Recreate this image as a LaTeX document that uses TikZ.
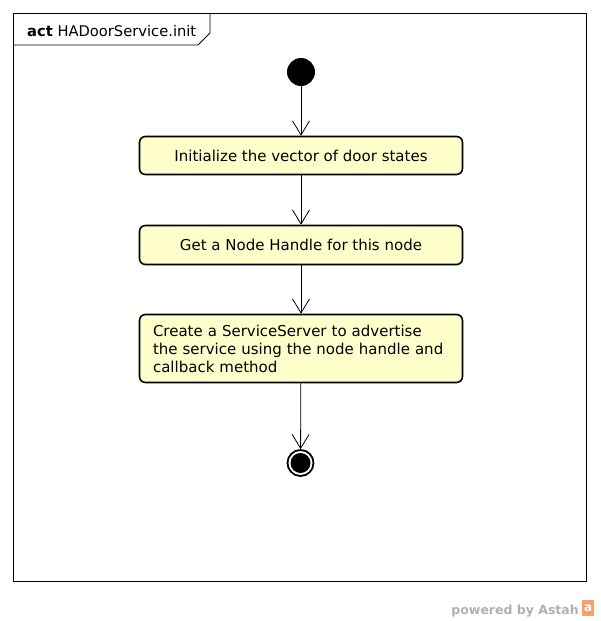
\documentclass[tikz,border=0pt]{standalone}
\usepackage{fontspec}
\setmainfont{DejaVu Sans}
\usepackage{tikz}
\usepackage{xcolor}
\usetikzlibrary{
    arrows.meta,
    positioning
}
\definecolor{actfill}{RGB}{255,255,204}
\definecolor{creditgray}{RGB}{176,176,176}
\definecolor{astahorange}{RGB}{245,160,110}

\begin{document}
\begin{tikzpicture}[x=1pt, y=-1pt,
    action/.style={draw, line width=1.6pt, rounded corners=6pt, fill=actfill,
        inner sep=0pt, minimum width=323pt, font=\fontsize{15}{18}\selectfont},
    flow/.style={-{Straight Barb[length=14pt, width=17pt, line width=0.8pt]}, line width=0.8pt}]
    \useasboundingbox (0, 0) rectangle (600, 621);
    % frame and its tab
    \draw[line width=0.9pt] (13, 13) rectangle (586, 581);
    \draw[line width=0.9pt]
    (13, 45) -- (198, 45) -- (210, 33) -- (210, 13);
    \node[anchor=base west, inner sep=0pt, font=\fontsize{14.7}{16}\selectfont] (title) at (27, 36) {\textbf{act} HADoorService.init};
    % nodes
    \node[circle, fill=black, minimum size=28pt, inner sep=0pt] (start) at (301, 72) {};
    \node[action, minimum height=38pt] (initvec) at (301, 155.5) {Initialize the vector of door states};
    \node[action, minimum height=39pt] (handle) at (301, 245) {Get a Node Handle for this node};
    \node[action, minimum height=68pt, text width=296pt, inner xsep=13.5pt, align=left] (server) at (301, 348.5)
    {Create a ServiceServer to advertise\\the service using the node handle and\\callback method};
    \node[circle, draw, line width=1.8pt, minimum size=26pt, inner sep=0pt,
        path picture={\fill (path picture bounding box.center) circle (10pt);}] (stop) at (300.5, 463) {};
    % connectors
    \draw[flow] (start) -- (initvec);
    \draw[flow] (initvec) -- (handle);
    \draw[flow] (handle) -- (server);
    \draw[flow] (server) -- (stop);
    % credit line
    \node[anchor=base east, inner sep=0pt, text=creditgray, font=\bfseries\fontsize{12.5}{14}\selectfont] (credit) at (579, 614) {powered by Astah};
    \node[anchor=west, fill=astahorange, text=white, inner sep=0pt, minimum width=12pt, minimum height=16pt,
        font=\bfseries\fontsize{12}{14}\selectfont] (logo) at (582, 608) {a};
\end{tikzpicture}
\end{document}
